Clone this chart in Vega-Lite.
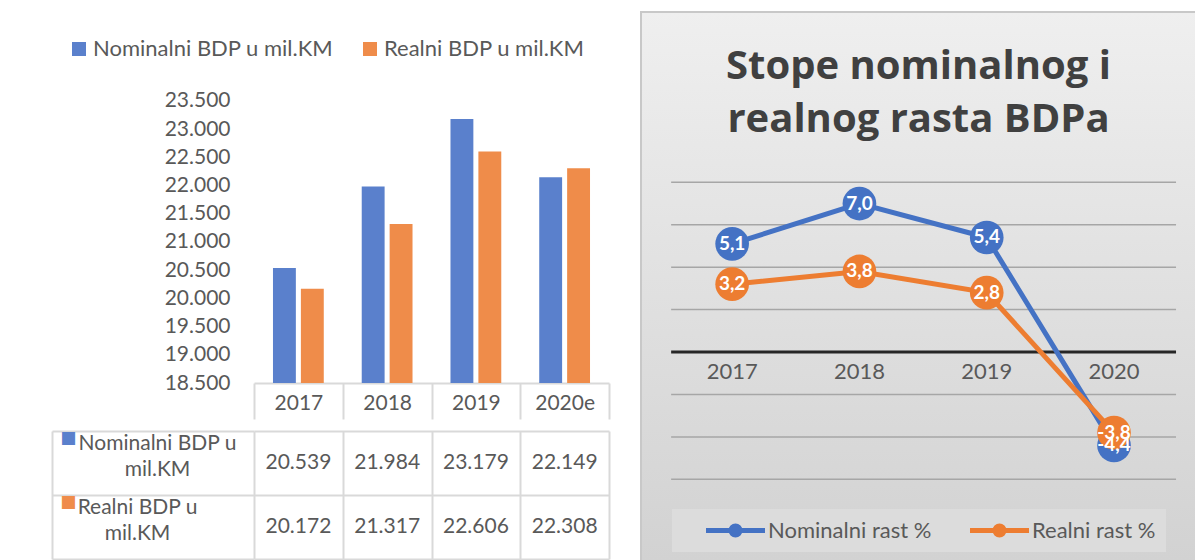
{
  "$schema": "https://vega.github.io/schema/vega-lite/v6.json",
  "padding": {"left": 51, "top": 11, "right": 0, "bottom": 0},
  "background": "white",
  "config": {
    "font": "Lato",
    "locale": {"number": {"decimal": ",", "thousands": ".", "grouping": [3], "currency": ["", ""], "minus": "-"}},
    "view": {"stroke": null},
    "axis": {"labelFont": "Lato", "labelColor": "#595959"},
    "legend": {"labelFont": "Lato", "labelColor": "#595959"}
  },
  "datasets": {
    "gdp": [
      {"year": "2017", "series": "Nominalni BDP u mil.KM", "value": 20539},
      {"year": "2018", "series": "Nominalni BDP u mil.KM", "value": 21984},
      {"year": "2019", "series": "Nominalni BDP u mil.KM", "value": 23179},
      {"year": "2020e", "series": "Nominalni BDP u mil.KM", "value": 22149},
      {"year": "2017", "series": "Realni BDP u mil.KM", "value": 20172},
      {"year": "2018", "series": "Realni BDP u mil.KM", "value": 21317},
      {"year": "2019", "series": "Realni BDP u mil.KM", "value": 22606},
      {"year": "2020e", "series": "Realni BDP u mil.KM", "value": 22308}
    ],
    "rates": [
      {"year": "2017", "series": "Nominalni rast %", "rate": 5.1},
      {"year": "2018", "series": "Nominalni rast %", "rate": 7.0},
      {"year": "2019", "series": "Nominalni rast %", "rate": 5.4},
      {"year": "2020", "series": "Nominalni rast %", "rate": -4.4},
      {"year": "2017", "series": "Realni rast %", "rate": 3.2},
      {"year": "2018", "series": "Realni rast %", "rate": 3.8},
      {"year": "2019", "series": "Realni rast %", "rate": 2.8},
      {"year": "2020", "series": "Realni rast %", "rate": -3.8}
    ],
    "grid": [{"g": -6}, {"g": -4}, {"g": -2}, {"g": 2}, {"g": 4}, {"g": 6}, {"g": 8}],
    "zero": [{"g": 0}]
  },
  "resolve": {"scale": {"color": "independent"}, "legend": {"color": "independent"}},
  "spacing": 30,
  "hconcat": [
    {
      "spacing": 0,
      "resolve": {"scale": {"color": "independent"}, "legend": {"color": "independent"}},
      "vconcat": [
        {
          "width": 355,
          "height": 371,
          "data": {"name": "gdp"},
          "mark": {"type": "bar"},
          "encoding": {
            "x": {
              "field": "year", "type": "nominal", "sort": null,
              "scale": {"domain": ["2017", "2018", "2019", "2020e"], "paddingInner": 0, "paddingOuter": 0},
              "axis": {"title": null, "orient": "bottom", "labelAngle": 0, "labelAlign": "center", "tickBand": "extent", "ticks": true, "tickSize": 36, "tickColor": "#d9d9d9", "tickWidth": 2, "domain": true, "domainColor": "#d9d9d9", "domainWidth": 2, "labelPadding": -27, "labelFontSize": 21, "grid": false}
            },
            "xOffset": {"field": "series", "type": "nominal", "sort": null, "scale": {"paddingInner": 0.18, "paddingOuter": 0.68}},
            "y": {
              "field": "value", "type": "quantitative",
              "scale": {"domain": [18500, 25078], "nice": false, "zero": false},
              "axis": {"title": null, "values": [18500, 19000, 19500, 20000, 20500, 21000, 21500, 22000, 22500, 23000, 23500], "format": ",.0f", "labelFontSize": 21, "labelPadding": 24, "ticks": false, "domain": false, "grid": false}
            },
            "y2": {"datum": 18500},
            "color": {
              "field": "series", "type": "nominal", "sort": null,
              "scale": {"domain": ["Nominalni BDP u mil.KM", "Realni BDP u mil.KM"], "range": ["#5a80cc", "#ef8c4a"]},
              "legend": {"title": null, "orient": "none", "legendX": -186, "legendY": 26, "direction": "horizontal", "padding": 0, "symbolType": "square", "symbolSize": 196, "symbolStrokeWidth": 0, "labelFontSize": 22, "labelOffset": 3, "columnPadding": 25, "labelLimit": 400}
            }
          }
        },
        {
          "width": 355,
          "height": 128,
          "data": {"name": "gdp"},
          "layer": [
            {
              "mark": {"type": "text", "fontSize": 21, "color": "#595959"},
              "encoding": {
                "x": {
                  "field": "year", "type": "nominal", "sort": null,
                  "scale": {"domain": ["2017", "2018", "2019", "2020e"], "paddingInner": 0, "paddingOuter": 0},
                  "axis": {"orient": "bottom", "title": null, "labels": false, "ticks": false, "domain": false, "grid": true, "tickBand": "extent", "gridColor": "#d9d9d9", "gridWidth": 2}
                },
                "y": {
                  "field": "series", "type": "nominal", "sort": null,
                  "scale": {"domain": ["Nominalni BDP u mil.KM", "Realni BDP u mil.KM"], "paddingInner": 0, "paddingOuter": 0},
                  "axis": {
                    "orient": "left", "title": null, "offset": 202,
                    "domain": true, "domainColor": "#d9d9d9", "domainWidth": 2,
                    "ticks": true, "tickSize": -202, "tickColor": "#d9d9d9", "tickWidth": 2, "tickBand": "extent",
                    "grid": true, "gridColor": "#d9d9d9", "gridWidth": 2,
                    "labelAlign": "center", "labelBaseline": "middle", "labelOffset": -20,
                    "labelPadding": {"condition": {"test": "datum.value == 'Realni BDP u mil.KM'", "value": 117}, "value": 97},
                    "labelFontSize": 21, "labelLineHeight": 26, "labelLimit": 0,
                    "labelExpr": "datum.value == 'Nominalni BDP u mil.KM' ? ['\u00a0\u00a0\u00a0\u00a0Nominalni BDP u', 'mil.KM'] : datum.value == 'Realni BDP u mil.KM' ? ['\u00a0\u00a0\u00a0\u00a0Realni BDP u', 'mil.KM'] : ''"
                  }
                },
                "text": {"field": "value", "type": "quantitative", "format": ",.0f"}
              }
            },
            {
              "transform": [{"filter": "datum.year == '2017'"}],
              "mark": {"type": "text", "text": "■", "font": "DejaVu Sans", "fontSize": 17, "dx": -230, "dy": -25},
              "encoding": {
                "x": {"datum": "2017", "type": "nominal"},
                "y": {"field": "series", "type": "nominal", "sort": null},
                "color": {
                  "field": "series", "type": "nominal", "sort": null,
                  "scale": {"domain": ["Nominalni BDP u mil.KM", "Realni BDP u mil.KM"], "range": ["#5a80cc", "#ef8c4a"]},
                  "legend": null
                }
              }
            }
          ]
        }
      ]
    },
    {
      "width": 555,
      "height": 549,
      "view": {
        "fill": {"gradient": "linear", "x1": 0, "y1": 0, "x2": 0, "y2": 1, "stops": [{"offset": 0, "color": "#efefef"}, {"offset": 1, "color": "#d2d2d2"}]},
        "stroke": "#c8c8c8",
        "strokeWidth": 2
      },
      "title": {
        "text": ["Stope nominalnog i", "realnog rasta BDPa"],
        "font": "Open Sans", "fontSize": 40, "fontWeight": "bold", "color": "#404040",
        "anchor": "middle", "offset": -128, "lineHeight": 53
      },
      "layer": [
        {
          "data": {"name": "grid"},
          "mark": {"type": "rule", "color": "#a6a6a6", "strokeWidth": 1.5, "xOffset": -61, "x2Offset": 62},
          "encoding": {
            "x": {"datum": "2017", "type": "nominal", "scale": {"domain": ["2017", "2018", "2019", "2020"], "paddingInner": 0, "paddingOuter": 0.18, "align": 0.6}},
            "x2": {"datum": "2020"},
            "y": {"field": "g", "type": "quantitative", "scale": {"domain": [-9.85, 16.03], "nice": false, "zero": false}, "axis": null}
          }
        },
        {
          "data": {"name": "zero"},
          "mark": {"type": "rule", "color": "#262626", "strokeWidth": 3, "xOffset": -61, "x2Offset": 62},
          "encoding": {
            "x": {"datum": "2017", "type": "nominal"},
            "x2": {"datum": "2020"},
            "y": {"field": "g", "type": "quantitative"}
          }
        },
        {
          "data": {"name": "rates"},
          "mark": {"type": "line", "strokeWidth": 5},
          "encoding": {
            "x": {
              "field": "year", "type": "nominal", "sort": null,
              "axis": {"orient": "bottom", "offset": -209, "title": null, "labelAngle": 0, "labelAlign": "center", "labelFontSize": 22, "labelPadding": 19, "ticks": false, "domain": false, "grid": false}
            },
            "y": {"field": "rate", "type": "quantitative"},
            "color": {
              "field": "series", "type": "nominal", "sort": null,
              "scale": {"domain": ["Nominalni rast %", "Realni rast %"], "range": ["#4472C4", "#ED7D31"]},
              "legend": {
                "title": null,
                "orient": "none", "legendX": 31, "legendY": 497, "direction": "horizontal",
                "fillColor": "#dcdcdc", "padding": 10,
                "symbolType": "M1.4,-0.1L7,-0.1L7,0.1L1.4,0.1Z M4.75,0A0.55,0.55 0 1,1 3.65,0A0.55,0.55 0 1,1 4.75,0Z",
                "symbolSize": 400, "symbolStrokeWidth": 3,
                "labelFontSize": 22, "labelOffset": 63, "columnPadding": 14, "labelLimit": 300
              }
            }
          }
        },
        {
          "data": {"name": "rates"},
          "mark": {"type": "point", "filled": true, "opacity": 1, "size": 1134},
          "encoding": {
            "x": {"field": "year", "type": "nominal", "sort": null},
            "y": {"field": "rate", "type": "quantitative"},
            "color": {"field": "series", "type": "nominal", "sort": null}
          }
        },
        {
          "data": {"name": "rates"},
          "mark": {"type": "text", "color": "white", "fontWeight": "bold", "fontSize": 19, "font": "Lato"},
          "encoding": {
            "x": {"field": "year", "type": "nominal", "sort": null},
            "y": {"field": "rate", "type": "quantitative"},
            "text": {"field": "rate", "type": "quantitative", "format": ".1f"}
          }
        }
      ]
    }
  ]
}
